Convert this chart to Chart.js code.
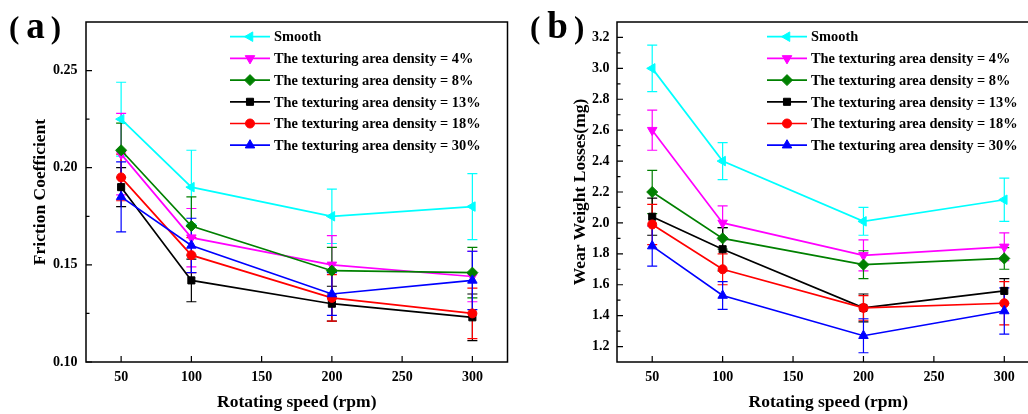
<!DOCTYPE html>
<html><head><meta charset="utf-8">
<script src="https://cdn.jsdelivr.net/npm/chart.js@4/dist/chart.umd.min.js"></script>
<style>
html,body{margin:0;padding:0;background:#fff;overflow:hidden;width:1028px;height:414px;position:relative;}
#wa{position:absolute;left:0;top:0;width:514px;height:414px;}
#wb{position:absolute;left:514px;top:0;width:532px;height:414px;}
.panel{position:absolute;top:6px;font-family:"Liberation Serif","Times New Roman",serif;font-weight:bold;color:#000;white-space:nowrap;line-height:40px;}
.panel .p{font-size:31px;}
.panel .l{font-size:37px;margin:0 6px 0 7px;}
</style></head><body>
<div id="wa"><canvas id="ca"></canvas></div>
<div id="wb"><canvas id="cb"></canvas></div>
<div class="panel" style="left:9px"><span class="p">(</span><span class="l">a</span><span class="p">)</span></div>
<div class="panel" style="left:530px"><span class="p">(</span><span class="l">b</span><span class="p">)</span></div>
<script>
// ---- data ----
const speeds = [50, 100, 200, 300];
const xTickValues = [50, 100, 150, 200, 250, 300];
const seriesNames = ['Smooth', 'The texturing area density = 4%', 'The texturing area density = 8%',
  'The texturing area density = 13%', 'The texturing area density = 18%', 'The texturing area density = 30%'];

// (a) friction coefficient
const frictionSmooth = [0.225, 0.190, 0.175, 0.180];
const frictionD4     = [0.207, 0.164, 0.150, 0.144];
const frictionD8     = [0.209, 0.170, 0.147, 0.146];
const frictionD13    = [0.190, 0.142, 0.130, 0.123];
const frictionD18    = [0.195, 0.155, 0.133, 0.125];
const frictionD30    = [0.185, 0.160, 0.135, 0.142];
const frictionErrSmooth = [0.019, 0.019, 0.014, 0.017];
const frictionErrD4     = [0.021, 0.015, 0.015, 0.013];
const frictionErrD8     = [0.014, 0.015, 0.012, 0.013];
const frictionErrD13    = [0.010, 0.011, 0.009, 0.012];
const frictionErrD18    = [0.012, 0.009, 0.012, 0.013];
const frictionErrD30    = [0.018, 0.014, 0.011, 0.015];
const frictionTicks = [0.10, 0.15, 0.20, 0.25];

// (b) wear weight losses
const wearSmooth = [3.00, 2.40, 2.01, 2.15];
const wearD4     = [2.60, 2.00, 1.79, 1.845];
const wearD8     = [2.20, 1.90, 1.73, 1.77];
const wearD13    = [2.04, 1.83, 1.45, 1.56];
const wearD18    = [1.99, 1.70, 1.45, 1.48];
const wearD30    = [1.85, 1.53, 1.27, 1.43];
const wearErrSmooth = [0.15, 0.12, 0.09, 0.14];
const wearErrD4     = [0.13, 0.11, 0.10, 0.09];
const wearErrD8     = [0.14, 0.07, 0.09, 0.07];
const wearErrD13    = [0.12, 0.14, 0.09, 0.08];
const wearErrD18    = [0.13, 0.10, 0.08, 0.14];
const wearErrD30    = [0.13, 0.09, 0.11, 0.15];
const wearTicks = [1.2, 1.4, 1.6, 1.8, 2.0, 2.2, 2.4, 2.6, 2.8, 3.0, 3.2];

// ---- styles ----
const colors = ['#00FFFF', '#FF00FF', '#008000', '#000000', '#FF0000', '#0000FF'];
const pStyles = ['triangle', 'triangle', 'rectRot', 'rect', 'circle', 'triangle'];
const pRot = [-90, 180, 0, 0, 0, 0];
const pRad = [5.5, 5.5, 5.5, 5, 4.5, 5.5];
const FONT = '"Liberation Serif","Times New Roman",serif';

function makeDatasets(series, errs) {
  return series.map((vals, i) => ({
    label: seriesNames[i],
    data: speeds.map((s, j) => ({x: s, y: vals[j]})),
    errors: errs[i],
    borderColor: colors[i], backgroundColor: colors[i],
    pointBackgroundColor: colors[i], pointBorderColor: colors[i],
    pointStyle: pStyles[i], pointRotation: pRot[i], pointRadius: pRad[i], pointBorderWidth: 1,
    borderWidth: 1.7, tension: 0, order: -i
  }));
}

const framePlugin = {
  id: 'frame',
  beforeDatasetsDraw(chart) {
    const ctx = chart.ctx, ys = chart.scales.y;
    chart.data.datasets.forEach((ds, i) => {
      const meta = chart.getDatasetMeta(i);
      ctx.save(); ctx.strokeStyle = ds.borderColor; ctx.lineWidth = 1.2;
      meta.data.forEach((pt, j) => {
        const v = ds.data[j].y, e = ds.errors[j];
        const yt = ys.getPixelForValue(v + e), yb = ys.getPixelForValue(v - e);
        ctx.beginPath();
        ctx.moveTo(pt.x, yt); ctx.lineTo(pt.x, yb);
        ctx.moveTo(pt.x - 5, yt); ctx.lineTo(pt.x + 5, yt);
        ctx.moveTo(pt.x - 5, yb); ctx.lineTo(pt.x + 5, yb);
        ctx.stroke();
      });
      ctx.restore();
    });
  },
  afterDraw(chart, args, opts) {
    const ctx = chart.ctx, a = chart.chartArea, xs = chart.scales.x, ys = chart.scales.y;
    ctx.save();
    ctx.strokeStyle = '#000'; ctx.lineWidth = 1.5;
    ctx.strokeRect(a.left, a.top, a.right - a.left, a.bottom - a.top);
    ctx.lineWidth = 1.2;
    ctx.beginPath();
    xs.ticks.forEach(t => { const p = xs.getPixelForValue(t.value); ctx.moveTo(p, a.bottom); ctx.lineTo(p, a.bottom - 6); });
    const yt = ys.ticks.map(t => t.value);
    yt.forEach((v, k) => {
      const p = ys.getPixelForValue(v); ctx.moveTo(a.left, p); ctx.lineTo(a.left + 6, p);
      if (k < yt.length - 1) { const m = ys.getPixelForValue((v + yt[k + 1]) / 2); ctx.moveTo(a.left, m); ctx.lineTo(a.left + 3.5, m); }
    });
    ctx.stroke();
    // legend
    const x0 = opts.x0, y0 = opts.y0, dy = 21.7;
    chart.data.datasets.forEach((ds, i) => {
      const y = y0 + i * dy;
      ctx.strokeStyle = ds.borderColor; ctx.fillStyle = ds.borderColor; ctx.lineWidth = 1.7;
      ctx.beginPath(); ctx.moveTo(x0, y); ctx.lineTo(x0 + 40, y); ctx.stroke();
      ctx.lineWidth = 1;
      Chart.helpers.drawPoint(ctx, {pointStyle: ds.pointStyle, rotation: ds.pointRotation, radius: ds.pointRadius, borderWidth: 1}, x0 + 20, y);
      ctx.fillStyle = '#000'; ctx.font = 'bold 14.4px ' + FONT; ctx.textBaseline = 'middle'; ctx.textAlign = 'left';
      ctx.fillText(ds.label, x0 + 44, y + 1);
    });
    ctx.restore();
  }
};

function makeChart(id, datasets, opt) {
  return new Chart(document.getElementById(id), {
    type: 'line',
    data: {datasets},
    plugins: [framePlugin],
    options: {
      responsive: true, maintainAspectRatio: false, animation: false, devicePixelRatio: 1,
      layout: {padding: {top: 22, right: opt.padRight, left: 0, bottom: 0}},
      plugins: {legend: {display: false}, tooltip: {enabled: false}, frame: {x0: opt.legX, y0: 36.7}},
      scales: {
        x: {
          type: 'linear', min: 25, max: 325,
          afterBuildTicks: s => { s.ticks = xTickValues.map(v => ({value: v})); },
          afterFit: s => { s.height = 52; },
          grid: {display: false, drawTicks: false}, border: {display: false},
          ticks: {color: '#000', font: {family: FONT, size: 14, weight: 'bold'}, padding: 7, maxRotation: 0, callback: v => String(v)},
          title: {display: true, text: 'Rotating speed (rpm)', color: '#000', font: {family: FONT, size: 17.5, weight: 'bold'}, padding: {top: 0, bottom: 1}}
        },
        y: {
          type: 'linear', min: opt.yMin, max: opt.yMax,
          afterBuildTicks: s => { s.ticks = opt.yTicks.map(v => ({value: v})); },
          afterFit: s => { s.width = opt.yWidth; },
          grid: {display: false, drawTicks: false}, border: {display: false},
          ticks: {color: '#000', font: {family: FONT, size: 14, weight: 'bold'}, padding: opt.yPad, callback: v => v.toFixed(opt.dec)},
          title: {display: true, text: opt.yTitle, color: '#000', font: {family: FONT, size: 17.5, weight: 'bold'}, padding: {top: opt.yTitlePad, bottom: 0}}
        }
      }
    }
  });
}

makeChart('ca', makeDatasets(
  [frictionSmooth, frictionD4, frictionD8, frictionD13, frictionD18, frictionD30],
  [frictionErrSmooth, frictionErrD4, frictionErrD8, frictionErrD13, frictionErrD18, frictionErrD30]),
  {yMin: 0.10, yMax: 0.275, yTicks: frictionTicks, dec: 2, yWidth: 86, yPad: 8.5, padRight: 6,
   yTitle: 'Friction Coefficient', yTitlePad: 30, legX: 230});

makeChart('cb', makeDatasets(
  [wearSmooth, wearD4, wearD8, wearD13, wearD18, wearD30],
  [wearErrSmooth, wearErrD4, wearErrD8, wearErrD13, wearErrD18, wearErrD30]),
  {yMin: 1.1, yMax: 3.3, yTicks: wearTicks, dec: 1, yWidth: 103, yPad: 7.5, padRight: 6,
   yTitle: 'Wear Weight Losses(mg)', yTitlePad: 56, legX: 253});
</script>
</body></html>
